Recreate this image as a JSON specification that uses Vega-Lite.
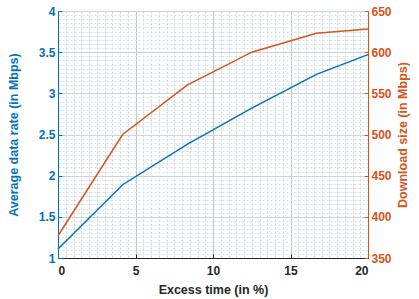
{
  "$schema": "https://vega.github.io/schema/vega-lite/v6.json",
  "autosize": "none",
  "width": 310,
  "height": 247,
  "padding": {"left": 58, "top": 11, "right": 51, "bottom": 41},
  "background": "white",
  "config": {
    "font": "Liberation Sans",
    "view": {"stroke": "#262626", "strokeWidth": 1},
    "axis": {
      "labelFont": "Liberation Sans",
      "titleFont": "Liberation Sans",
      "labelFontSize": 12,
      "labelFontWeight": "bold",
      "titleFontSize": 12.5,
      "titleFontWeight": "bold",
      "labelOverlap": false,
      "domainWidth": 1,
      "tickWidth": 1
    }
  },
  "data": {
    "values": [
      {"x": 0, "rate": 1.11, "size": 377},
      {"x": 4.17, "rate": 1.89, "size": 500},
      {"x": 8.33, "rate": 2.38, "size": 560},
      {"x": 12.5, "rate": 2.82, "size": 600},
      {"x": 16.67, "rate": 3.23, "size": 623},
      {"x": 20, "rate": 3.47, "size": 628}
    ]
  },
  "encoding": {
    "x": {
      "field": "x",
      "type": "quantitative",
      "scale": {"domain": [0, 20], "nice": false, "zero": false},
      "axis": {
        "title": "Excess time (in %)",
        "titleColor": "#262626",
        "labelColor": "#262626",
        "domainColor": "#262626",
        "tickColor": "#262626",
        "tickSize": -4,
        "labelPadding": 11,
        "titlePadding": 7,
        "values": [0,0.5,1,1.5,2,2.5,3,3.5,4,4.5,5,5.5,6,6.5,7,7.5,8,8.5,9,9.5,10,10.5,11,11.5,12,12.5,13,13.5,14,14.5,15,15.5,16,16.5,17,17.5,18,18.5,19,19.5,20],
        "labelExpr": "abs(datum.value/5 - round(datum.value/5)) < 0.001 ? format(datum.value, '~g') : ''",
        "tickOpacity": {"condition": {"test": "abs(datum.value/5 - round(datum.value/5)) < 0.001", "value": 1}, "value": 0},
        "grid": true,
        "gridColor": {"condition": {"test": "abs(datum.value/5 - round(datum.value/5)) < 0.001", "value": "#c4c4c4"}, "value": "#d3d3d3"},
        "gridDash": {"condition": {"test": "abs(datum.value/5 - round(datum.value/5)) < 0.001", "value": []}, "value": [2, 2]},
        "gridWidth": 1
      }
    }
  },
  "layer": [
    {
      "mark": {"type": "line", "color": "#0072BD", "strokeWidth": 1.5},
      "encoding": {
        "y": {
          "field": "rate",
          "type": "quantitative",
          "scale": {"domain": [1, 4], "nice": false, "zero": false},
          "axis": {
            "title": "Average data rate (in Mbps)",
            "titleColor": "#0072BD",
            "labelColor": "#0072BD",
            "domainColor": "#0072BD",
            "tickColor": "#0072BD",
            "tickSize": -4,
            "labelPadding": 7,
            "titlePadding": 18,
            "values": [1,1.05,1.1,1.15,1.2,1.25,1.3,1.35,1.4,1.45,1.5,1.55,1.6,1.65,1.7,1.75,1.8,1.85,1.9,1.95,2,2.05,2.1,2.15,2.2,2.25,2.3,2.35,2.4,2.45,2.5,2.55,2.6,2.65,2.7,2.75,2.8,2.85,2.9,2.95,3,3.05,3.1,3.15,3.2,3.25,3.3,3.35,3.4,3.45,3.5,3.55,3.6,3.65,3.7,3.75,3.8,3.85,3.9,3.95,4],
            "labelExpr": "abs(datum.value*2 - round(datum.value*2)) < 0.001 ? format(datum.value, '~g') : ''",
            "tickOpacity": {"condition": {"test": "abs(datum.value*2 - round(datum.value*2)) < 0.001", "value": 1}, "value": 0},
            "grid": true,
            "gridColor": {"condition": {"test": "abs(datum.value*2 - round(datum.value*2)) < 0.001", "value": "#c9d6e2"}, "value": "#cfe2f3"},
            "gridDash": {"condition": {"test": "abs(datum.value*2 - round(datum.value*2)) < 0.001", "value": []}, "value": [2, 2]},
            "gridWidth": 1
          }
        }
      }
    },
    {
      "mark": {"type": "line", "color": "#D95319", "strokeWidth": 1.5},
      "encoding": {
        "y": {
          "field": "size",
          "type": "quantitative",
          "scale": {"domain": [350, 650], "nice": false, "zero": false},
          "axis": {
            "orient": "right",
            "title": "Download size (in Mbps)",
            "titleColor": "#D95319",
            "labelColor": "#D95319",
            "domainColor": "#D95319",
            "tickColor": "#D95319",
            "tickSize": -4,
            "labelPadding": 7,
            "titlePadding": 5,
            "titleAngle": 270,
            "titleBaseline": "top",
            "values": [350, 400, 450, 500, 550, 600, 650],
            "grid": false
          }
        }
      }
    }
  ],
  "resolve": {"scale": {"y": "independent"}}
}
